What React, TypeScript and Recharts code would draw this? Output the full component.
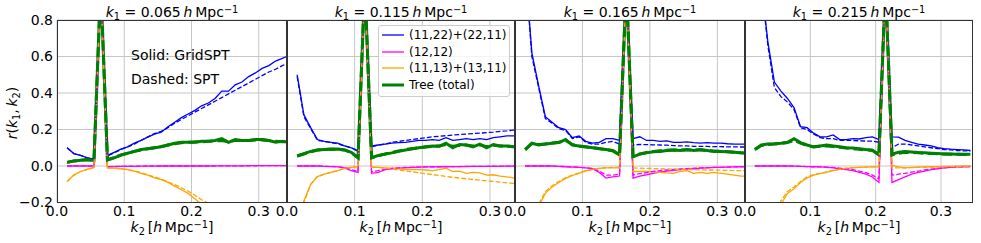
import type { ReactNode } from "react";
import { CartesianGrid, Legend, Line, LineChart, XAxis, YAxis } from "recharts";

const FONT = "'DejaVu Sans', sans-serif";

const K2 = [
  0.015, 0.025, 0.035, 0.045, 0.055, 0.065, 0.075, 0.085, 0.095, 0.105, 0.115, 0.125,
  0.135, 0.145, 0.155, 0.165, 0.175, 0.185, 0.195, 0.205, 0.215, 0.225, 0.235, 0.245,
  0.255, 0.265, 0.275, 0.285, 0.295, 0.305, 0.315, 0.325, 0.335, 0.345,
];

// k1 = 0.065
const p1BlueSolid = [0.1, 0.068, 0.058, 0.045, 0.038, 1, 0.058, 0.075, 0.092, 0.105, 0.125, 0.14, 0.158, 0.175, 0.185, 0.215, 0.24, 0.265, 0.285, 0.305, 0.33, 0.345, 0.37, 0.41, 0.41, 0.445, 0.46, 0.49, 0.51, 0.535, 0.55, 0.575, 0.59, 0.605];
const p1BlueDashed = [0.1, 0.068, 0.058, 0.045, 0.038, 1, 0.055, 0.072, 0.09, 0.105, 0.12, 0.14, 0.16, 0.178, 0.19, 0.21, 0.235, 0.255, 0.275, 0.295, 0.315, 0.335, 0.355, 0.375, 0.395, 0.415, 0.435, 0.455, 0.475, 0.495, 0.515, 0.53, 0.55, 0.565];
const p1MagentaSolid = [0, 0, 0, 0, 0, 1, -0.004, -0.003, -0.002, -0.002, -0.002, -0.001, -0.001, -0.001, 0, 0, 0, 0, 0, 0, 0, 0, 0.001, 0.001, 0.001, 0.001, 0.001, 0.002, 0.002, 0.002, 0.002, 0.002, 0.002, 0.002];
const p1MagentaDashed = [0, 0, 0, 0, 0, 1, -0.003, -0.002, -0.002, -0.001, -0.001, -0.001, 0, 0, 0, 0, 0, 0, 0, 0, 0, 0, 0, 0.001, 0.001, 0.001, 0.001, 0.001, 0.001, 0.002, 0.002, 0.002, 0.002, 0.002];
const p1OrangeSolid = [-0.085, -0.05, -0.03, -0.018, -0.008, 1, -0.012, -0.012, -0.015, -0.02, -0.028, -0.04, -0.05, -0.065, -0.075, -0.09, -0.11, -0.13, -0.15, -0.18, -0.21, -0.245, null, null, null, null, null, null, null, null, null, null, null, null];
const p1OrangeDashed = [-0.085, -0.05, -0.03, -0.018, -0.008, 1, -0.01, -0.012, -0.015, -0.02, -0.027, -0.037, -0.048, -0.06, -0.072, -0.087, -0.102, -0.12, -0.138, -0.16, -0.185, -0.205, -0.23, null, null, null, null, null, null, null, null, null, null, null];
const p1GreenSolid = [0.02, 0.028, 0.032, 0.035, 0.03, 1, 0.033, 0.045, 0.06, 0.07, 0.08, 0.09, 0.095, 0.1, 0.105, 0.115, 0.125, 0.13, 0.13, 0.13, 0.135, 0.135, 0.14, 0.15, 0.13, 0.145, 0.14, 0.14, 0.145, 0.145, 0.14, 0.13, 0.135, 0.13];
const p1GreenDashed = [0.02, 0.027, 0.031, 0.034, 0.03, 1, 0.033, 0.046, 0.06, 0.07, 0.08, 0.088, 0.095, 0.1, 0.107, 0.115, 0.122, 0.127, 0.13, 0.132, 0.133, 0.135, 0.137, 0.14, 0.133, 0.14, 0.14, 0.14, 0.142, 0.143, 0.14, 0.135, 0.133, 0.132];

// k1 = 0.115
const p2BlueSolid = [0.5, 0.28, 0.21, 0.145, 0.135, 0.13, 0.125, 0.11, 0.1, 0.08, 1, 0.11, 0.115, 0.12, 0.125, 0.128, 0.13, 0.135, 0.14, 0.14, 0.145, 0.14, 0.155, 0.14, 0.145, 0.15, 0.145, 0.15, 0.145, 0.155, 0.16, 0.165, 0.165, 0.165];
const p2BlueDashed = [0.49, 0.27, 0.205, 0.14, 0.135, 0.128, 0.122, 0.11, 0.1, 0.085, 1, 0.105, 0.115, 0.12, 0.13, 0.135, 0.14, 0.145, 0.15, 0.155, 0.16, 0.163, 0.166, 0.17, 0.172, 0.175, 0.178, 0.18, 0.183, 0.186, 0.19, 0.193, 0.197, 0.2];
const p2MagentaSolid = [0, 0, 0, 0, -0.002, -0.003, -0.005, -0.01, -0.025, -0.035, 1, -0.04, -0.035, -0.02, -0.015, -0.012, -0.01, -0.008, -0.006, -0.005, -0.005, -0.004, -0.004, -0.003, -0.003, -0.003, -0.002, -0.002, -0.002, -0.002, -0.002, -0.001, -0.001, -0.001];
const p2MagentaDashed = [0, 0, 0, 0, -0.001, -0.002, -0.004, -0.008, -0.02, -0.03, 1, -0.032, -0.025, -0.018, -0.013, -0.01, -0.008, -0.007, -0.006, -0.005, -0.004, -0.004, -0.003, -0.003, -0.003, -0.002, -0.002, -0.002, -0.002, -0.001, -0.001, -0.001, -0.001, -0.001];
const p2OrangeSolid = [-0.35, -0.19, -0.1, -0.058, -0.045, -0.035, -0.025, -0.013, -0.007, -0.003, 1, -0.008, -0.008, -0.01, -0.012, -0.015, -0.02, -0.018, -0.02, -0.022, -0.025, -0.02, -0.012, -0.03, -0.028, -0.04, -0.035, -0.038, -0.05, -0.048, -0.055, -0.06, -0.065, -0.068];
const p2OrangeDashed = [-0.36, -0.2, -0.1, -0.058, -0.045, -0.035, -0.025, -0.013, -0.007, -0.003, 1, -0.006, -0.008, -0.012, -0.016, -0.022, -0.027, -0.032, -0.037, -0.042, -0.047, -0.052, -0.057, -0.062, -0.066, -0.07, -0.074, -0.078, -0.082, -0.085, -0.088, -0.092, -0.095, -0.098];
const p2GreenSolid = [0.055, 0.068, 0.08, 0.088, 0.09, 0.092, 0.093, 0.088, 0.075, 0.045, 1, 0.045, 0.058, 0.065, 0.072, 0.08, 0.088, 0.095, 0.1, 0.105, 0.11, 0.108, 0.125, 0.1, 0.118, 0.115, 0.105, 0.12, 0.1, 0.118, 0.11, 0.11, 0.105, 0.105];
const p2GreenDashed = [0.055, 0.066, 0.078, 0.088, 0.09, 0.093, 0.092, 0.088, 0.073, 0.045, 1, 0.045, 0.056, 0.066, 0.074, 0.082, 0.09, 0.095, 0.1, 0.104, 0.108, 0.11, 0.118, 0.108, 0.113, 0.115, 0.11, 0.116, 0.106, 0.114, 0.11, 0.108, 0.106, 0.105];

// k1 = 0.165
const p3BlueSolid = [1.1, 0.62, 0.44, 0.27, 0.24, 0.21, 0.2, 0.155, 0.165, 0.135, 0.125, 0.13, 0.15, 0.15, 0.14, 1, 0.15, 0.16, 0.14, 0.14, 0.135, 0.138, 0.13, 0.13, 0.132, 0.128, 0.125, 0.128, 0.125, 0.125, 0.122, 0.12, 0.12, 0.12];
const p3BlueDashed = [1.1, 0.6, 0.43, 0.26, 0.235, 0.205, 0.195, 0.15, 0.16, 0.13, 0.12, 0.12, 0.13, 0.135, 0.12, 1, 0.115, 0.118, 0.117, 0.116, 0.115, 0.114, 0.112, 0.11, 0.11, 0.108, 0.108, 0.107, 0.106, 0.106, 0.105, 0.105, 0.104, 0.104];
const p3MagentaSolid = [0, 0, 0, 0, 0, -0.002, -0.004, -0.006, -0.008, -0.01, -0.015, -0.035, -0.066, -0.06, -0.055, 1, -0.066, -0.055, -0.048, -0.04, -0.033, -0.028, -0.024, -0.02, -0.017, -0.015, -0.012, -0.01, -0.008, -0.007, -0.006, -0.005, -0.004, -0.003];
const p3MagentaDashed = [0, 0, 0, 0, 0, -0.002, -0.003, -0.005, -0.007, -0.009, -0.013, -0.028, -0.05, -0.05, -0.045, 1, -0.05, -0.042, -0.036, -0.03, -0.026, -0.022, -0.019, -0.016, -0.014, -0.012, -0.01, -0.009, -0.008, -0.007, -0.006, -0.005, -0.004, -0.003];
const p3OrangeSolid = [-0.5, -0.35, -0.22, -0.15, -0.115, -0.09, -0.068, -0.052, -0.04, -0.027, -0.02, -0.013, -0.01, -0.01, -0.01, 1, -0.03, -0.03, -0.03, -0.032, -0.035, -0.038, -0.04, -0.03, -0.025, -0.04, -0.035, -0.04, -0.035, -0.04, -0.045, -0.05, -0.055, -0.055];
const p3OrangeDashed = [-0.5, -0.34, -0.21, -0.14, -0.108, -0.085, -0.064, -0.05, -0.038, -0.026, -0.019, -0.012, -0.009, -0.008, -0.008, 1, -0.01, -0.012, -0.013, -0.014, -0.015, -0.016, -0.017, -0.018, -0.019, -0.02, -0.021, -0.022, -0.022, -0.023, -0.024, -0.025, -0.025, -0.026];
const p3GreenSolid = [0.09, 0.125, 0.115, 0.12, 0.125, 0.128, 0.145, 0.115, 0.11, 0.105, 0.1, 0.095, 0.09, 0.085, 0.06, 1, 0.05, 0.065, 0.072, 0.078, 0.08, 0.085, 0.088, 0.085, 0.09, 0.085, 0.09, 0.085, 0.08, 0.08, 0.078, 0.075, 0.072, 0.07];
const p3GreenDashed = [0.09, 0.122, 0.118, 0.12, 0.126, 0.13, 0.14, 0.118, 0.108, 0.104, 0.1, 0.096, 0.09, 0.083, 0.062, 1, 0.052, 0.066, 0.074, 0.08, 0.083, 0.086, 0.088, 0.087, 0.088, 0.087, 0.088, 0.084, 0.082, 0.08, 0.078, 0.075, 0.072, 0.07];

// k1 = 0.215
const p4BlueSolid = [1.4, 1.0, 0.68, 0.46, 0.41, 0.37, 0.32, 0.215, 0.21, 0.18, 0.16, 0.16, 0.17, 0.145, 0.145, 0.15, 0.148, 0.155, 0.16, 0.145, 1, 0.16, 0.158, 0.14, 0.13, 0.12, 0.115, 0.11, 0.1, 0.095, 0.092, 0.09, 0.088, 0.085];
const p4BlueDashed = [1.4, 1.0, 0.66, 0.43, 0.38, 0.35, 0.31, 0.21, 0.2, 0.175, 0.155, 0.15, 0.15, 0.14, 0.14, 0.14, 0.138, 0.137, 0.136, 0.13, 1, 0.1, 0.12, 0.12, 0.115, 0.11, 0.105, 0.1, 0.095, 0.09, 0.088, 0.085, 0.083, 0.082];
const p4MagentaSolid = [0, 0, 0, 0, 0, 0, -0.001, -0.002, -0.003, -0.004, -0.005, -0.007, -0.01, -0.015, -0.02, -0.025, -0.035, -0.045, -0.06, -0.09, 1, -0.09, -0.075, -0.06, -0.045, -0.035, -0.028, -0.02, -0.015, -0.01, -0.007, -0.005, -0.004, -0.003];
const p4MagentaDashed = [0, 0, 0, 0, 0, 0, -0.001, -0.002, -0.003, -0.004, -0.005, -0.006, -0.008, -0.012, -0.016, -0.02, -0.028, -0.036, -0.05, -0.07, 1, -0.05, -0.045, -0.04, -0.034, -0.028, -0.022, -0.017, -0.013, -0.01, -0.007, -0.005, -0.004, -0.003];
const p4OrangeSolid = [-0.6, -0.5, -0.4, -0.3, -0.21, -0.15, -0.125, -0.09, -0.065, -0.05, -0.042, -0.035, -0.025, -0.018, -0.013, -0.01, -0.008, -0.006, -0.005, -0.005, 1, 0.004, -0.005, -0.01, -0.008, -0.006, -0.005, -0.004, -0.003, -0.002, -0.002, -0.001, 0, 0];
const p4OrangeDashed = [-0.6, -0.48, -0.38, -0.28, -0.19, -0.14, -0.115, -0.085, -0.06, -0.047, -0.04, -0.032, -0.024, -0.017, -0.012, -0.009, -0.007, -0.006, -0.005, -0.005, 1, -0.01, -0.01, -0.01, -0.009, -0.008, -0.007, -0.006, -0.005, -0.004, -0.003, -0.003, -0.002, -0.002];
const p4GreenSolid = [0.09, 0.115, 0.12, 0.122, 0.125, 0.13, 0.15, 0.128, 0.115, 0.105, 0.11, 0.115, 0.11, 0.105, 0.1, 0.098, 0.095, 0.09, 0.087, 0.06, 1, 0.065, 0.075, 0.08, 0.077, 0.074, 0.072, 0.07, 0.068, 0.066, 0.066, 0.065, 0.065, 0.064];
const p4GreenDashed = [0.09, 0.112, 0.118, 0.12, 0.124, 0.128, 0.14, 0.125, 0.112, 0.104, 0.108, 0.11, 0.107, 0.102, 0.098, 0.095, 0.092, 0.088, 0.085, 0.062, 1, 0.06, 0.07, 0.075, 0.074, 0.072, 0.07, 0.068, 0.067, 0.066, 0.065, 0.064, 0.063, 0.062];

const K1_LABELS = ["0.065", "0.115", "0.165", "0.215"];
const X_TICKS = [0, 0.1, 0.2, 0.3];
const X_MINOR = [0.02, 0.04, 0.06, 0.08, 0.12, 0.14, 0.16, 0.18, 0.22, 0.24, 0.26, 0.28, 0.32, 0.34];
const Y_TICKS = [-0.2, 0, 0.2, 0.4, 0.6, 0.8];
const Y_MINOR = [-0.15, -0.1, -0.05, 0.05, 0.1, 0.15, 0.25, 0.3, 0.35, 0.45, 0.5, 0.55, 0.65, 0.7, 0.75];
const LEGEND_NAMES = ["(11,22)+(22,11)", "(12,12)", "(11,13)+(13,11)", "Tree (total)"];

// layout of the four panels (plot areas)
const PLOT_LEFT = [57, 287, 515, 745];
const PLOT_WIDTH = [230, 228, 230, 228];
const X_MAX = [0.342, 0.337, 0.341, 0.349];
const PLOT_TOP = 20;
const PLOT_HEIGHT = 182.5;
const CHART_HEIGHT = 243;

const BLUE = "#0000ff";
const MAGENTA = "#ff00ff";
const ORANGE = "#ffa500";
const GREEN = "#008000";

type Series = (number | null)[];

function buildRows(bs: Series, bd: Series, ms: Series, md: Series, os: Series, od: Series, gs: Series, gd: Series) {
  return K2.map((k, i) => ({
    k,
    bs: bs[i],
    bd: bd[i],
    ms: ms[i],
    md: md[i],
    os: os[i],
    od: od[i],
    gs: gs[i],
    gd: gd[i],
  }));
}

const panelRows = [
  buildRows(p1BlueSolid, p1BlueDashed, p1MagentaSolid, p1MagentaDashed, p1OrangeSolid, p1OrangeDashed, p1GreenSolid, p1GreenDashed),
  buildRows(p2BlueSolid, p2BlueDashed, p2MagentaSolid, p2MagentaDashed, p2OrangeSolid, p2OrangeDashed, p2GreenSolid, p2GreenDashed),
  buildRows(p3BlueSolid, p3BlueDashed, p3MagentaSolid, p3MagentaDashed, p3OrangeSolid, p3OrangeDashed, p3GreenSolid, p3GreenDashed),
  buildRows(p4BlueSolid, p4BlueDashed, p4MagentaSolid, p4MagentaDashed, p4OrangeSolid, p4OrangeDashed, p4GreenSolid, p4GreenDashed),
];

// drawing order: GridSPT solids first, then the dashed SPT curves (tree last)
const LINES = [
  { key: "bs", color: BLUE, width: 1.3, dash: undefined },
  { key: "ms", color: MAGENTA, width: 1.3, dash: undefined },
  { key: "os", color: ORANGE, width: 1.3, dash: undefined },
  { key: "gs", color: GREEN, width: 3, dash: undefined },
  { key: "bd", color: BLUE, width: 1.3, dash: "4.8 2.1" },
  { key: "md", color: MAGENTA, width: 1.3, dash: "4.8 2.1" },
  { key: "od", color: ORANGE, width: 1.3, dash: "4.8 2.1" },
  { key: "gd", color: GREEN, width: 3, dash: "10 4.5" },
];
const LEGEND_COLORS = [BLUE, MAGENTA, ORANGE, GREEN];
const LEGEND_WIDTHS = [1.3, 1.3, 1.3, 3];

function fmtY(v: number) {
  if (Math.abs(v) < 1e-9) return "0.0";
  return v < 0 ? `\u2212${Math.abs(v).toFixed(1)}` : v.toFixed(1);
}

function Sub({ children }: { children: ReactNode }) {
  return <span style={{ fontSize: "0.7em", position: "relative", top: "0.28em" }}>{children}</span>;
}

function Sup({ children }: { children: ReactNode }) {
  return <span style={{ fontSize: "0.7em", position: "relative", top: "-0.45em" }}>{children}</span>;
}

function LegendBox() {
  return (
    <div
      style={{
        position: "relative",
        width: 132,
        height: 72,
        boxSizing: "border-box",
        border: "1px solid #cccccc",
        borderRadius: 3,
        background: "rgba(255,255,255,0.8)",
        fontFamily: FONT,
        fontSize: 12,
        color: "#000",
      }}
    >
      {LEGEND_NAMES.map((name, i) => (
        <div key={name} style={{ position: "absolute", left: 0, top: 1 + i * 16.7, height: 16, width: 130 }}>
          <svg width={24} height={16} style={{ position: "absolute", left: 3, top: 0 }}>
            <line x1={0} x2={22} y1={8} y2={8} stroke={LEGEND_COLORS[i]} strokeWidth={LEGEND_WIDTHS[i]} />
          </svg>
          <span style={{ position: "absolute", left: 30, top: 0, lineHeight: "16px", whiteSpace: "nowrap" }}>{name}</span>
        </div>
      ))}
    </div>
  );
}

function Panel({ index }: { index: number }) {
  const first = index === 0;
  const padLeft = first ? 0 : 25;
  const padRight = 15;
  const chartLeft = PLOT_LEFT[index] - (first ? 57 : padLeft);
  const yAxisWidth = first ? 57 : 0;
  const width = yAxisWidth + padLeft + PLOT_WIDTH[index] + padRight;
  const xAxisHeight = 30;
  const bottom = CHART_HEIGHT - PLOT_TOP - PLOT_HEIGHT - xAxisHeight;
  const domain: [number, number] = [0, X_MAX[index]];
  const tickFont = { fontSize: 14, fill: "#000", fontFamily: FONT };

  return (
    <div style={{ position: "absolute", left: chartLeft, top: 0 }}>
      <LineChart
        width={width}
        height={CHART_HEIGHT}
        data={panelRows[index]}
        margin={{ top: PLOT_TOP, right: padRight, bottom, left: padLeft }}
      >
        <CartesianGrid stroke="#c6c6c6" strokeWidth={1} horizontalValues={Y_TICKS} verticalValues={X_TICKS} />
        <XAxis
          dataKey="k"
          type="number"
          domain={domain}
          allowDataOverflow
          ticks={X_TICKS}
          interval={0}
          height={xAxisHeight}
          tickLine={false}
          axisLine={false}
          tickSize={0}
          tickMargin={4}
          tick={tickFont}
          tickFormatter={(v: number) => v.toFixed(1)}
        />
        <XAxis xAxisId="minor" type="number" domain={domain} allowDataOverflow ticks={X_MINOR} interval={0} mirror tick={false} axisLine={false} tickSize={2} stroke="#444" />
        <XAxis xAxisId="major" type="number" domain={domain} allowDataOverflow ticks={X_TICKS} interval={0} mirror tick={false} axisLine={false} tickSize={4} stroke="#444" />
        <YAxis
          type="number"
          domain={[-0.2, 0.8]}
          allowDataOverflow
          ticks={Y_TICKS}
          interval={0}
          hide={!first}
          width={yAxisWidth}
          tickLine={false}
          axisLine={false}
          tickSize={0}
          tickMargin={4}
          tick={tickFont}
          tickFormatter={fmtY}
        />
        <YAxis yAxisId="minor" type="number" domain={[-0.2, 0.8]} allowDataOverflow ticks={Y_MINOR} interval={0} mirror tick={false} axisLine={false} tickSize={2} stroke="#444" />
        <YAxis yAxisId="major" type="number" domain={[-0.2, 0.8]} allowDataOverflow ticks={Y_TICKS} interval={0} mirror tick={false} axisLine={false} tickSize={4} stroke="#444" />
        {LINES.map((s) => (
          <Line
            key={s.key}
            dataKey={s.key}
            type="linear"
            stroke={s.color}
            strokeWidth={s.width}
            strokeDasharray={s.dash}
            dot={false}
            activeDot={false}
            isAnimationActive={false}
          />
        ))}
        {index === 1 ? (
          <Legend
            layout="horizontal"
            verticalAlign="middle"
            align="center"
            content={() => <LegendBox />}
            wrapperStyle={{ left: 378 - chartLeft, top: 25, width: 132, height: 72 }}
          />
        ) : null}
      </LineChart>
    </div>
  );
}

export default function App() {
  return (
    <div style={{ position: "absolute", left: 0, top: 0, width: 981, height: 243, background: "#fff", fontFamily: FONT, color: "#000" }}>
      {K1_LABELS.map((_, i) => (
        <Panel key={i} index={i} />
      ))}

      {K1_LABELS.map((k1, i) => {
        const center = PLOT_LEFT[i] + PLOT_WIDTH[i] / 2;
        return (
          <div key={`t${k1}`}>
            <div style={{ position: "absolute", left: center - 100, top: 4, width: 200, textAlign: "center", fontSize: 14, lineHeight: "16px", whiteSpace: "nowrap" }}>
              <i>k</i>
              <Sub>1</Sub> = {k1}
              {"\u2009"}
              <i>h</i>
              {"\u2009"}Mpc<Sup>{"\u22121"}</Sup>
            </div>
            <div style={{ position: "absolute", left: center - 100, top: 219, width: 200, textAlign: "center", fontSize: 14, lineHeight: "16px", whiteSpace: "nowrap" }}>
              <i>k</i>
              <Sub>2</Sub>
              {"\u2009"}[<i>h</i>
              {"\u2009"}Mpc<Sup>{"\u22121"}</Sup>]
            </div>
            <div
              style={{
                position: "absolute",
                left: PLOT_LEFT[i],
                top: PLOT_TOP,
                width: PLOT_WIDTH[i],
                height: PLOT_HEIGHT,
                boxSizing: "border-box",
                border: "1px solid #333",
                pointerEvents: "none",
              }}
            />
          </div>
        );
      })}

      <div style={{ position: "absolute", left: 13 - 60, top: 111.5 - 8, width: 120, textAlign: "center", fontSize: 14, lineHeight: "16px", transform: "rotate(-90deg)", whiteSpace: "nowrap" }}>
        <i>r</i>(<i>k</i>
        <Sub>1</Sub>,{"\u2009"}
        <i>k</i>
        <Sub>2</Sub>)
      </div>

      <div style={{ position: "absolute", left: 131, top: 47, fontSize: 14, lineHeight: "16px", whiteSpace: "nowrap" }}>Solid: GridSPT</div>
      <div style={{ position: "absolute", left: 131, top: 71, fontSize: 14, lineHeight: "16px", whiteSpace: "nowrap" }}>Dashed: SPT</div>
    </div>
  );
}
